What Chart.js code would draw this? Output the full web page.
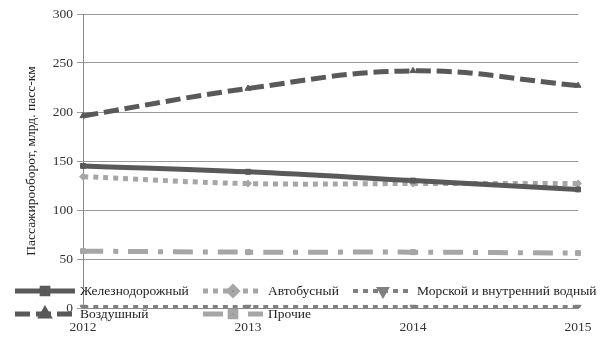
<!DOCTYPE html>
<html>
<head>
<meta charset="utf-8">
<script src="https://cdn.jsdelivr.net/npm/chart.js@4/dist/chart.umd.min.js"></script>
<style>
  html, body { margin: 0; padding: 0; background: #fff; }
  #wrap { width: 605px; height: 340px; }
</style>
</head>
<body>
<div id="wrap"><canvas id="c" width="605" height="340"></canvas></div>
<script>
const years = ["2012", "2013", "2014", "2015"];
const rail = [145, 139, 130, 121];
const bus = [134, 127, 127, 127];
const water = [1, 1, 1, 1];
const air = [196, 224, 242, 227];
const other = [58, 57, 57, 56];
const yTicks = [0, 50, 100, 150, 200, 250, 300];

const FONT = "'Liberation Serif', 'DejaVu Serif', serif";
const FS = 13.5;

function series(label, data, color, dash, style, rotation, width) {
  return {
    label: label,
    data: data,
    borderColor: color,
    backgroundColor: color,
    borderWidth: width,
    borderDash: dash,
    pointStyle: style,
    rotation: rotation || 0,
    pointRadius: 3.5,
    pointBorderWidth: 1,
    tension: 0.4,
    fill: false,
  };
}

const datasets = [
  series("Железнодорожный", rail, "#595959", [], "rect", 0, 5),
  series("Автобусный", bus, "#a6a6a6", [5, 5], "rectRot", 0, 5),
  series("Морской и внутренний водный", water, "#7f7f7f", [5, 5], "triangle", 180, 4),
  series("Воздушный", air, "#595959", [15, 6], "triangle", 0, 5),
  series("Прочие", other, "#a6a6a6", [20, 10, 5, 10], "rect", 0, 5),
];

// legend layout: two rows drawn over the bottom of the plot
const legendSpots = [
  { x: 15, y: 291, tx: 80 },
  { x: 203, y: 291, tx: 268 },
  { x: 353, y: 291, tx: 417 },
  { x: 15, y: 314, tx: 80 },
  { x: 203, y: 314, tx: 268 },
];

const legendPlugin = {
  id: "sideLegend",
  afterDraw(chart) {
    const ctx = chart.ctx;
    chart.data.datasets.forEach((ds, i) => {
      const p = legendSpots[i];
      ctx.save();
      ctx.strokeStyle = ds.borderColor;
      ctx.lineWidth = ds.borderWidth;
      ctx.setLineDash(ds.borderDash);
      ctx.beginPath();
      ctx.moveTo(p.x, p.y);
      ctx.lineTo(p.x + 60, p.y);
      ctx.stroke();
      ctx.setLineDash([]);
      Chart.helpers.drawPoint(ctx, {
        pointStyle: ds.pointStyle,
        radius: 4,
        rotation: ds.rotation,
        borderWidth: 1,
      }, p.x + 30, p.y);
      ctx.fillStyle = "#222";
      ctx.font = FS + "px " + FONT;
      ctx.textBaseline = "middle";
      ctx.fillText(ds.label, p.tx, p.y);
      ctx.restore();
    });
  },
};

new Chart(document.getElementById("c"), {
  type: "line",
  data: { labels: years, datasets: datasets },
  options: {
    responsive: false,
    animation: false,
    layout: { padding: { top: 14, right: 27, left: 0, bottom: 0 } },
    plugins: {
      legend: { display: false },
      tooltip: { enabled: false },
    },
    scales: {
      x: {
        offset: false,
        grid: { display: false, drawTicks: false },
        border: { color: "#888", width: 1 },
        ticks: {
          color: "#333",
          font: { family: FONT, size: FS },
          padding: 11,
          maxRotation: 0,
        },
        afterFit(scale) { scale.height = 32; },
      },
      y: {
        min: 0,
        max: 300,
        afterBuildTicks(scale) {
          scale.ticks = yTicks.map((v) => ({ value: v }));
        },
        grid: { color: "#999", lineWidth: 1, tickLength: 6 },
        border: { color: "#888", width: 1 },
        ticks: {
          color: "#333",
          font: { family: FONT, size: FS },
          padding: 4,
        },
        title: {
          display: true,
          text: "Пассажирооборот, млрд. пасс-км",
          color: "#222",
          font: { family: FONT, size: FS },
          padding: { top: 23, bottom: 8 },
        },
        afterFit(scale) { scale.width = 83; },
      },
    },
  },
  plugins: [legendPlugin],
});
</script>
</body>
</html>
